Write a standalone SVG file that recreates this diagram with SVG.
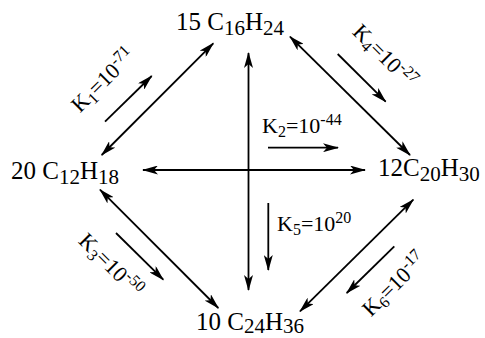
<svg xmlns="http://www.w3.org/2000/svg" width="485" height="338" viewBox="0 0 485 338">
<defs>
<marker id="ah" markerUnits="userSpaceOnUse" markerWidth="16" markerHeight="9" refX="15" refY="4.5" orient="auto-start-reverse" viewBox="0 0 16 9">
<path d="M0,0 L16,4.5 L0,9 L4,4.5 Z" fill="#000"/>
</marker>
<style>
.f{font-family:"Liberation Serif","Times New Roman",serif;fill:#000}
.m{font-size:25px}
.s{font-size:21px}
.k{font-size:22px}
.ks{font-size:16px}
.c line{stroke:#000;stroke-width:1.8;fill:none}
.d{marker-start:url(#ah);marker-end:url(#ah)}
.e{marker-end:url(#ah)}
</style>
</defs>
<rect width="485" height="338" fill="#fff"/>
<g id="connectors" class="c">
<line class="d" x1="248.5" y1="53" x2="248.5" y2="290"/>
<line class="d" x1="143" y1="170" x2="365" y2="170"/>
<line class="d" x1="101.7" y1="155" x2="213.3" y2="43.3"/>
<line class="d" x1="290" y1="36.7" x2="410" y2="155"/>
<line class="d" x1="100" y1="189.7" x2="218.3" y2="308"/>
<line class="d" x1="413.3" y1="199.7" x2="300" y2="311.3"/>
<line class="e" x1="105" y1="121.7" x2="151.7" y2="76"/>
<line class="e" x1="337.7" y1="54" x2="385.7" y2="101.7"/>
<line class="e" x1="268" y1="147.7" x2="338" y2="147.7"/>
<line class="e" x1="268.3" y1="203" x2="268.3" y2="270"/>
<line class="e" x1="116" y1="233" x2="163.3" y2="279.7"/>
<line class="e" x1="394.3" y1="246.3" x2="346.7" y2="293"/>
</g>
<g id="n-top"><text class="f m" x="176" y="30">15 C<tspan class="s" dy="5">16</tspan><tspan dy="-5">H</tspan><tspan class="s" dy="5">24</tspan></text></g>
<g id="n-left"><text class="f m" x="11" y="179">20 C<tspan class="s" dy="5">12</tspan><tspan dy="-5">H</tspan><tspan class="s" dy="5">18</tspan></text></g>
<g id="n-right"><text class="f m" x="378" y="176">12C<tspan class="s" dy="5">20</tspan><tspan dy="-5">H</tspan><tspan class="s" dy="5">30</tspan></text></g>
<g id="n-bottom"><text class="f m" x="196" y="330">10 C<tspan class="s" dy="3">24</tspan><tspan dy="-3">H</tspan><tspan class="s" dy="3">36</tspan></text></g>
<g id="k1"><text class="f k" text-anchor="middle" transform="translate(104,81) rotate(-45)" y="6">K<tspan class="ks" dy="4">1</tspan><tspan dy="-4">=10</tspan><tspan class="ks" dy="-8">-71</tspan></text></g>
<g id="k4"><text class="f k" text-anchor="middle" transform="translate(384,57) rotate(45)" y="6">K<tspan class="ks" dy="4">4</tspan><tspan dy="-4">=10</tspan><tspan class="ks" dy="-8">-27</tspan></text></g>
<g id="k3"><text class="f k" text-anchor="middle" transform="translate(110,266) rotate(45)" y="6">K<tspan class="ks" dy="4">3</tspan><tspan dy="-4">=10</tspan><tspan class="ks" dy="-8">-50</tspan></text></g>
<g id="k6"><text class="f k" text-anchor="middle" transform="translate(395,285) rotate(-45)" y="6">K<tspan class="ks" dy="4">6</tspan><tspan dy="-4">=10</tspan><tspan class="ks" dy="-8">-17</tspan></text></g>
<g id="k2"><text class="f k" x="262" y="133">K<tspan class="ks" dy="4">2</tspan><tspan dy="-4">=10</tspan><tspan class="ks" dy="-8">-44</tspan></text></g>
<g id="k5"><text class="f k" x="277" y="231">K<tspan class="ks" dy="4">5</tspan><tspan dy="-4">=10</tspan><tspan class="ks" dy="-8">20</tspan></text></g>
</svg>
